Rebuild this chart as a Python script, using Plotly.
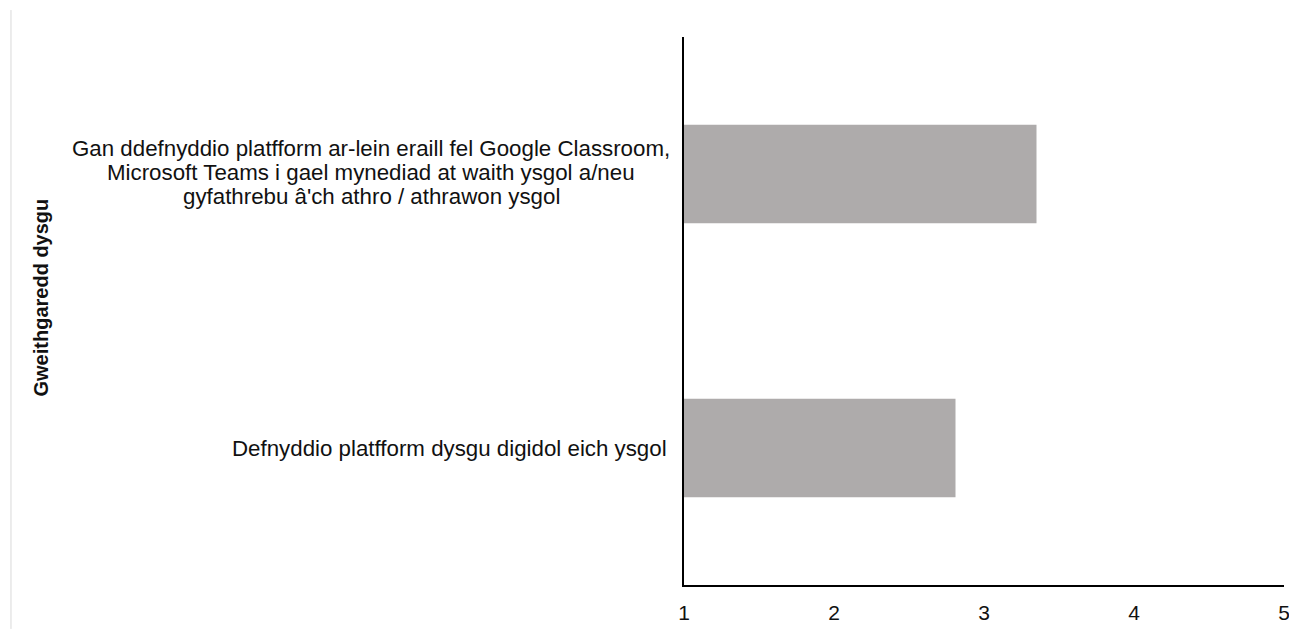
import plotly.graph_objects as go

# actividades y puntuación media (escala 1-5)
activities = [
    "Defnyddio platfform dysgu digidol eich ysgol",
    "Gan ddefnyddio platfform ar-lein eraill fel Google Classroom,<br>"
    "Microsoft Teams i gael mynediad at waith ysgol a/neu<br>"
    "gyfathrebu â'ch athro / athrawon ysgol",
]
scores = [2.81, 3.35]
x_ticks = [1, 2, 3, 4, 5]
y_title = "Gweithgaredd dysgu"

FONT = "Liberation Sans, Arial, sans-serif"
W, H = 1296, 630
L, R, T, B = 684, 6, 37, 44
pw, ph = W - L - R, H - T - B


def px_x(p):
    # posición en pantalla -> coordenada paper (corrige el ligero escalado horizontal)
    return ((p - 5.8) / 0.99 - L) / pw


def px_y(p):
    return (H - B - p) / ph


fig = go.Figure(go.Bar(
    x=[s - 1 for s in scores], base=1, y=list(range(len(activities))), orientation="h",
    marker=dict(color="#AEABAB", line=dict(width=0)), width=0.36,
))

fig.update_xaxes(range=[1, 5], tickvals=x_ticks, showgrid=False, zeroline=False,
                 showline=True, linecolor="black", linewidth=2, ticks="",
                 ticklabeloverflow="allow", ticklabelstandoff=8,
                 tickfont=dict(family=FONT, size=21, color="#111"))
fig.update_yaxes(showticklabels=False, showgrid=False, zeroline=False,
                 showline=True, linecolor="black", linewidth=2, ticks="",
                 range=[-0.5, 1.5])

# etiquetas centradas línea a línea (interlineado más apretado que el de plotly)
LINE = 24
for i, a in enumerate(activities):
    lines = a.split("<br>")
    n = len(lines)
    for j, ln in enumerate(lines):
        shift = ((n - 1) / 2 - j) * LINE + (2 if n > 1 else 0)
        if n > 1:
            kw = dict(x=px_x(370), xanchor="center")
        else:
            kw = dict(x=px_x(668), xanchor="right")
        fig.add_annotation(y=i, xref="paper", yref="y", text=ln, showarrow=False,
                           yshift=shift, font=dict(family=FONT, size=22.3, color="#111"), **kw)

fig.add_annotation(x=px_x(27), y=px_y(298), xref="paper", yref="paper", text=f"<b>{y_title}</b>",
                   textangle=-90, showarrow=False, font=dict(family=FONT, size=20, color="#111"))

fig.add_shape(type="line", xref="paper", yref="paper", x0=px_x(10), x1=px_x(10),
              y0=px_y(10), y1=px_y(630), line=dict(color="#d9d9d9", width=1))

fig.update_layout(width=W, height=H, margin=dict(l=L, r=R, t=T, b=B),
                  paper_bgcolor="white", plot_bgcolor="white", showlegend=False,
                  font=dict(family=FONT))
fig.write_html("out.html", config={"displayModeBar": False},
               post_script="document.body.style.margin='0';document.body.style.overflow='hidden';")
